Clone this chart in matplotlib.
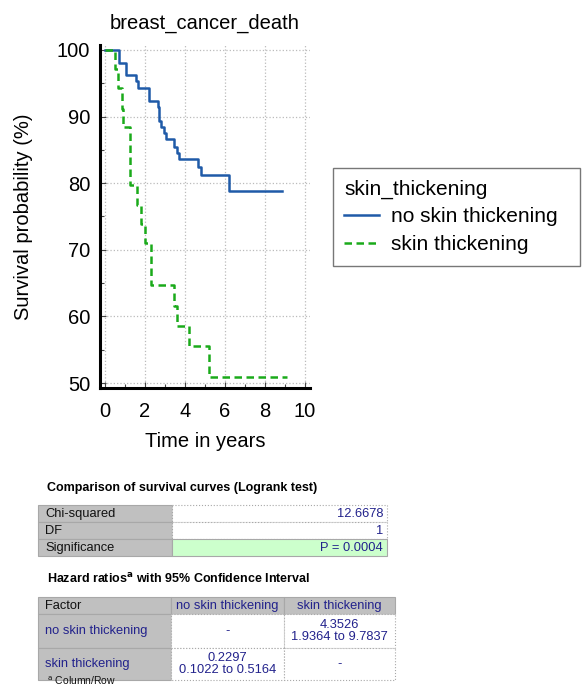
import matplotlib.pyplot as plt
from matplotlib.patches import Rectangle

plt.rcParams['font.family'] = ['Liberation Sans', 'DejaVu Sans']

# Kaplan-Meier steps (time in years, survival %)
t_no = [0, 0.72, 1.05, 1.53, 1.63, 2.22, 2.63, 2.72, 2.8, 2.95, 3.05, 3.47, 3.58, 3.72, 4.67, 4.8, 6.22, 8.83]
s_no = [100, 98.1, 96.3, 95.3, 94.3, 92.4, 91.5, 89.4, 88.5, 87.5, 86.6, 85.5, 84.5, 83.6, 82.4, 81.2, 78.8, 78.8]
t_sk = [0, 0.5, 0.63, 0.85, 0.92, 1.25, 1.6, 1.78, 2.0, 2.3, 3.45, 3.58, 4.2, 5.22, 9.12]
s_sk = [100, 97.1, 94.3, 91.2, 88.5, 79.8, 76.7, 73.9, 71.0, 64.7, 61.6, 58.6, 55.6, 50.9, 50.9]

groups = ['no skin thickening', 'skin thickening']
logrank_rows = ['Chi-squared', 'DF', 'Significance']
logrank_vals = ['12.6678', '1', 'P = 0.0004']
hr_header = ['Factor', 'no skin thickening', 'skin thickening']
hr_cells = [['-', '4.3526\n1.9364 to 9.7837'],
            ['0.2297\n0.1022 to 0.5164', '-']]

W, H = 582, 687
fig = plt.figure(figsize=(W / 100, H / 100), dpi=100)

# survival plot, placed in pixel units
ax = fig.add_axes([100 / W, 1 - 388 / H, 210 / W, 343 / H])
ax.step(t_no, s_no, where='post', color='#1f5aa8', lw=1.8, label=groups[0])
ax.step(t_sk, s_sk, where='post', color='#1aaa1a', lw=1.8, ls=(0, (3, 1.8)), label=groups[1])
ax.set_xlim(-0.25, 10.25)
ax.set_ylim(49.25, 100.75)
ax.set_xticks(range(0, 11, 2))
ax.set_xticks(range(1, 10, 2), minor=True)
ax.set_yticks(range(50, 101, 10))
ax.set_yticks(range(55, 100, 10), minor=True)
ax.grid(True, which='major', color='#bbbbbb', ls=':', lw=0.9)
for s in ['top', 'right']:
    ax.spines[s].set_visible(False)
for s in ['left', 'bottom']:
    ax.spines[s].set_linewidth(2.2)
ax.tick_params(which='both', direction='in', labelsize=14.5, width=0.8, color='#444444')
ax.tick_params(which='major', length=4)
ax.tick_params(which='minor', length=3)
ax.tick_params(axis='x', pad=10)
ax.tick_params(axis='y', pad=7)
ax.set_title('breast_cancer_death', fontsize=14.5, pad=12)
ax.set_xlabel('Time in years', fontsize=14.5, labelpad=8)
ax.set_ylabel('Survival probability (%)', fontsize=14.5, labelpad=17)

leg = ax.legend(title='skin_thickening', loc='upper left', mode='expand',
                bbox_to_anchor=(333 / W, 1 - 262 / H, 247 / W, 94 / H),
                bbox_transform=fig.transFigure,
                fontsize=15, title_fontsize=15, alignment='left',
                fancybox=False, edgecolor='#777777', framealpha=1,
                handlelength=1.65, handletextpad=0.6, borderpad=0.55, labelspacing=0.42,
                borderaxespad=0)
leg.get_frame().set_linewidth(1.0)

# tables drawn on an overlay in pixel coordinates
ov = fig.add_axes([0, 0, 1, 1])
ov.set_xlim(0, W)
ov.set_ylim(H, 0)
ov.axis('off')

gray = '#c0c0c0'
navy = '#22228c'
edge = '#a8a8a8'
fs = 9.3

def cell(x0, y0, x1, y1, fc, dotted=False):
    ov.add_patch(Rectangle((x0, y0), x1 - x0, y1 - y0, facecolor=fc,
                           edgecolor=edge, lw=0.8, ls=':' if dotted else '-'))

ov.text(47, 488, 'Comparison of survival curves (Logrank test)', fontsize=9,
        fontweight='bold', va='center')
row_y = [505, 522, 539, 556]
for i, (lab, val) in enumerate(zip(logrank_rows, logrank_vals)):
    y0, y1 = row_y[i], row_y[i + 1]
    cell(38, y0, 172, y1, gray)
    cell(172, y0, 387, y1, '#ccffcc' if i == 2 else 'white', dotted=(i != 2))
    ov.text(45, (y0 + y1) / 2 + 0.5, lab, fontsize=fs, va='center', color='#111111')
    ov.text(383, (y0 + y1) / 2 + 0.5, val, fontsize=fs, va='center', ha='right', color=navy)

ov.text(47, 579, 'Hazard ratios$^{\\mathbf{a}}$ with 95% Confidence Interval', fontsize=9,
        fontweight='bold', va='center')
col_x = [38, 171, 284, 395]
hr_y = [597, 614, 648, 680]
for j, h in enumerate(hr_header):
    cell(col_x[j], hr_y[0], col_x[j + 1], hr_y[1], gray)
    if j == 0:
        ov.text(45, 606, h, fontsize=fs, va='center', color='#111111')
    else:
        ov.text((col_x[j] + col_x[j + 1]) / 2, 606, h, fontsize=fs, va='center',
                ha='center', color=navy)
for i in range(2):
    y0, y1 = hr_y[i + 1], hr_y[i + 2]
    cell(col_x[0], y0, col_x[1], y1, gray)
    ov.text(45, (y0 + y1) / 2, groups[i], fontsize=fs, va='center', color=navy)
    for j in range(2):
        cell(col_x[j + 1], y0, col_x[j + 2], y1, 'white', dotted=True)
        ov.text((col_x[j + 1] + col_x[j + 2]) / 2, (y0 + y1) / 2, hr_cells[i][j],
                fontsize=fs, va='center', ha='center', color=navy, linespacing=1.05)

ov.text(47, 687, '$^{\\mathrm{a}}$ Column/Row', fontsize=7.5, va='bottom', color='#111111')

fig.savefig('out.png', dpi=100)
